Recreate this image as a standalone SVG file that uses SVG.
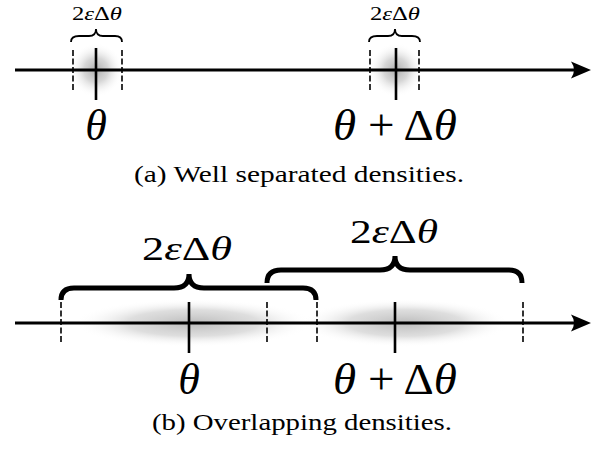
<svg xmlns="http://www.w3.org/2000/svg" width="598" height="449" viewBox="0 0 598 449">
<style>
.axis{stroke:#000;stroke-width:2.8;fill:none}
.tick{stroke:#000;stroke-width:2.6;fill:none}
.dash{stroke:#000;stroke-width:1.6;stroke-dasharray:6 2.5;fill:none}
.brace-s{stroke:#000;stroke-width:1.8;fill:none}
.brace-b{stroke:#000;stroke-width:5;fill:none;stroke-linecap:butt}
.t{font-family:"Liberation Serif","Times New Roman",serif;fill:#000}
.i{font-style:italic}
</style>
<defs>
<radialGradient id="g">
<stop offset="0" stop-color="#a0a0a0" stop-opacity="0.85"/>
<stop offset="0.45" stop-color="#bcbcbc" stop-opacity="0.6"/>
<stop offset="1" stop-color="#ffffff" stop-opacity="0"/>
</radialGradient>
<radialGradient id="gb">
<stop offset="0" stop-color="#b0b0b0" stop-opacity="0.85"/>
<stop offset="0.55" stop-color="#c8c8c8" stop-opacity="0.6"/>
<stop offset="1" stop-color="#ffffff" stop-opacity="0"/>
</radialGradient>
</defs>
<g id="densities">
<circle cx="96" cy="70" r="27" fill="url(#g)"/>
<circle cx="396" cy="70" r="27" fill="url(#g)"/>
<ellipse cx="193" cy="323" rx="120" ry="24" fill="url(#gb)"/>
<ellipse cx="405" cy="323" rx="105" ry="24" fill="url(#gb)"/>
</g>
<g id="connectors">
<line class="axis" x1="15" y1="70" x2="576" y2="70"/>
<path d="M591,70 L571,61.5 Q577,70 571,78.5 Z" fill="#000"/>
<line class="axis" x1="15" y1="323" x2="576" y2="323"/>
<path d="M591,323 L571,314.5 Q577,323 571,331.5 Z" fill="#000"/>
</g>
<g id="node-a-theta">
<line class="tick" x1="96" y1="48" x2="96" y2="100"/>
<line class="dash" x1="73" y1="50" x2="73" y2="91"/>
<line class="dash" x1="122" y1="50" x2="122" y2="91"/>
<path class="brace-s" d="M71,42 Q71,36 79,36 L89,36 Q96,36 96,29 Q96,36 103,36 L115,36 Q122,36 122,42"/>
<text class="t" x="97" y="20" font-size="19" text-anchor="middle" textLength="50" lengthAdjust="spacingAndGlyphs">2<tspan class="i">ε</tspan>Δ<tspan class="i">θ</tspan></text>
<text class="t i" x="96" y="140" font-size="44" text-anchor="middle">θ</text>
</g>
<g id="node-a-theta2">
<line class="tick" x1="396" y1="48" x2="396" y2="100"/>
<line class="dash" x1="370" y1="50" x2="370" y2="91"/>
<line class="dash" x1="419" y1="50" x2="419" y2="91"/>
<path class="brace-s" d="M369,42 Q369,36 377,36 L388,36 Q395,36 395,29 Q395,36 402,36 L412,36 Q420,36 420,42"/>
<text class="t" x="395" y="20" font-size="19" text-anchor="middle" textLength="50" lengthAdjust="spacingAndGlyphs">2<tspan class="i">ε</tspan>Δ<tspan class="i">θ</tspan></text>
<text class="t" x="395" y="140" font-size="44" text-anchor="middle" textLength="124" lengthAdjust="spacingAndGlyphs"><tspan class="i">θ</tspan> + Δ<tspan class="i">θ</tspan></text>
</g>
<g id="caption-a">
<text class="t" x="299" y="182" font-size="23" text-anchor="middle" textLength="330" lengthAdjust="spacingAndGlyphs">(a) Well separated densities.</text>
</g>
<g id="node-b-theta">
<line class="tick" x1="189" y1="302" x2="189" y2="353"/>
<line class="dash" x1="61" y1="302" x2="61" y2="342"/>
<line class="dash" x1="267" y1="302" x2="267" y2="342"/>
<path class="brace-b" d="M61,300 Q61,288 74,288 L174,288 Q189,288 189,274 Q189,288 204,288 L303,288 Q316,288 316,300"/>
<text class="t" x="187" y="260" font-size="33" text-anchor="middle" textLength="90" lengthAdjust="spacingAndGlyphs">2<tspan class="i">ε</tspan>Δ<tspan class="i">θ</tspan></text>
<text class="t i" x="189" y="394" font-size="44" text-anchor="middle">θ</text>
</g>
<g id="node-b-theta2">
<line class="tick" x1="395" y1="302" x2="395" y2="353"/>
<line class="dash" x1="317" y1="302" x2="317" y2="342"/>
<line class="dash" x1="523" y1="302" x2="523" y2="342"/>
<path class="brace-b" d="M267,283 Q267,270 281,270 L380,270 Q395,270 395,256 Q395,270 410,270 L509,270 Q522,270 522,283"/>
<text class="t" x="394" y="243" font-size="33" text-anchor="middle" textLength="88" lengthAdjust="spacingAndGlyphs">2<tspan class="i">ε</tspan>Δ<tspan class="i">θ</tspan></text>
<text class="t" x="395" y="394" font-size="44" text-anchor="middle" textLength="124" lengthAdjust="spacingAndGlyphs"><tspan class="i">θ</tspan> + Δ<tspan class="i">θ</tspan></text>
</g>
<g id="caption-b">
<text class="t" x="302" y="430" font-size="23" text-anchor="middle" textLength="300" lengthAdjust="spacingAndGlyphs">(b) Overlapping densities.</text>
</g>
</svg>
